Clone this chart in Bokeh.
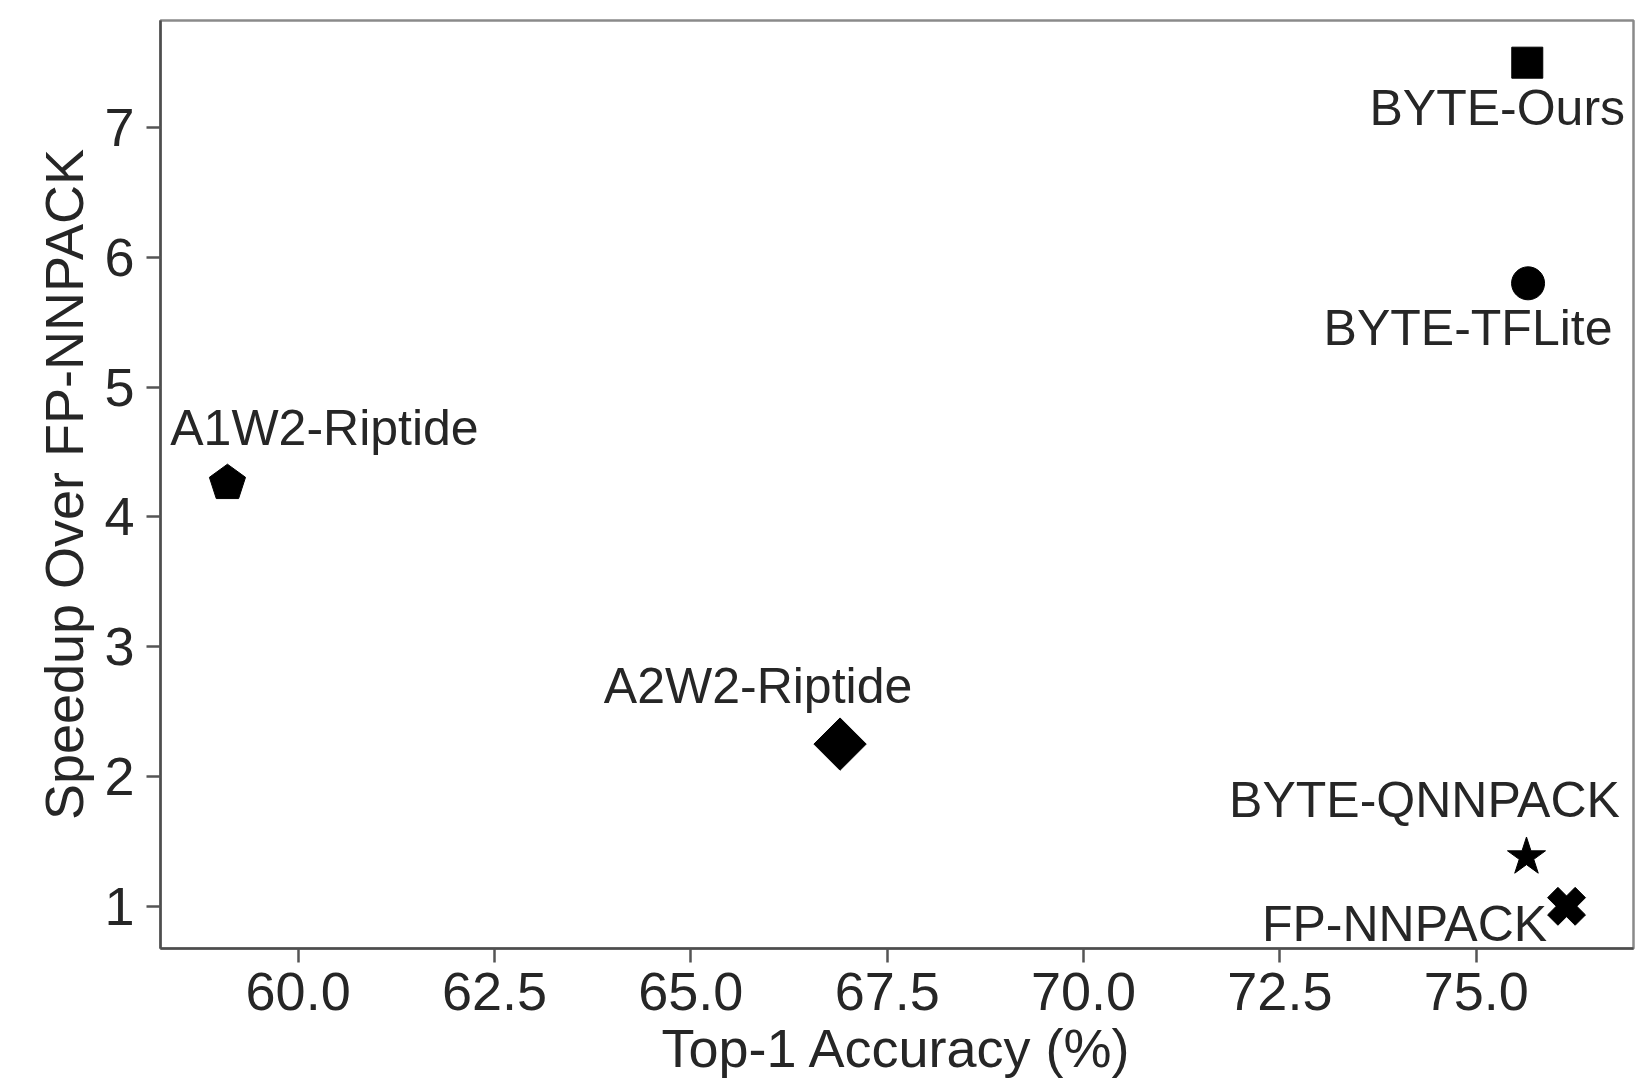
from bokeh.plotting import figure
from bokeh.models import Range1d, FixedTicker, NumeralTickFormatter, ColumnDataSource
from bokeh.core.properties import value
from bokeh.embed import file_html
from bokeh.resources import INLINE
import numpy as np

# ---- data ----
methods = ["BYTE-Ours", "BYTE-TFLite", "A1W2-Riptide", "A2W2-Riptide", "BYTE-QNNPACK", "FP-NNPACK"]
accuracy = [75.65, 75.66, 59.1, 66.9, 75.64, 76.15]
speedup = [7.5, 5.8, 4.26, 2.25, 1.38, 1.0]
x_ticks = [60.0, 62.5, 65.0, 67.5, 70.0, 72.5, 75.0]
y_ticks = [1, 2, 3, 4, 5, 6, 7]

# ---- label placement (screen px relative to marker) ----
label_dx = [-30, -60, 97, -82, -102, -162]
label_dy = [45, 45, -55, -58, -57, 18]

FONT = "Liberation Sans"
TXT = "#262626"

pad_x = (max(accuracy) - min(accuracy)) * 0.05
pad_y = (max(speedup) - min(speedup)) * 0.05

p = figure(
    frame_width=1473, frame_height=928,
    min_border_left=160, min_border_top=20, min_border_right=6, min_border_bottom=132,
    x_range=Range1d(min(accuracy) - pad_x, max(accuracy) + pad_x),
    y_range=Range1d(min(speedup) - pad_y, max(speedup) + pad_y),
    output_backend="svg", toolbar_location=None,
    background_fill_color="white", border_fill_color="white",
)
p.grid.visible = False
p.outline_line_color = "#8a8a8a"
p.outline_line_width = 2.5

for ax in (p.xaxis[0], p.yaxis[0]):
    ax.axis_line_color = "#4d4d4d"
    ax.axis_line_width = 2.5
    ax.major_tick_line_color = "#555555"
    ax.major_tick_line_width = 2.5
    ax.major_tick_out = 14
    ax.major_tick_in = 0
    ax.minor_tick_line_color = None
    ax.major_label_text_font = FONT
    ax.major_label_text_font_size = "54px"
    ax.major_label_text_color = TXT
    ax.axis_label_text_font = FONT
    ax.axis_label_text_font_size = "54px"
    ax.axis_label_text_font_style = "normal"
    ax.axis_label_text_color = TXT

p.xaxis.ticker = FixedTicker(ticks=x_ticks)
p.xaxis.formatter = NumeralTickFormatter(format="0.0")
p.xaxis.major_label_standoff = 10
p.xaxis.axis_label = "Top-1 Accuracy (%)"
p.xaxis.axis_label_standoff = 5

p.yaxis.ticker = FixedTicker(ticks=y_ticks)
p.yaxis.major_label_standoff = 12
p.yaxis.axis_label = "Speedup Over FP-NNPACK"
p.yaxis.axis_label_standoff = 7

src = ColumnDataSource(dict(x=accuracy, y=speedup, name=methods, dx=label_dx, dy=label_dy))

def one(i):
    return dict(x=[accuracy[i]], y=[speedup[i]])

# BYTE-Ours: square
p.scatter(marker="square", size=31, color="black", **one(0))
# BYTE-TFLite: circle
p.scatter(marker="circle", size=33, color="black", **one(1))
# A1W2-Riptide: pentagon
try:
    p.ngon(radius=19, n=5, angle=0, radius_units="screen",
           fill_color="black", line_color="black", **one(2))
except Exception:
    p.scatter(marker="hex", size=36, color="black", **one(2))
# A2W2-Riptide: diamond (rotated square)
p.scatter(marker="square", size=37, angle=np.pi / 4, color="black", **one(3))
# BYTE-QNNPACK: star
p.scatter(marker="star", size=40, color="black", **one(4))
# FP-NNPACK: filled X
p.scatter(marker="plus", size=39, angle=np.pi / 4, color="black", **one(5))

p.text(x="x", y="y", text="name", x_offset="dx", y_offset="dy", source=src,
       text_font=value(FONT), text_font_size="50px", text_color=TXT,
       text_align="center", text_baseline="alphabetic")

open("out.html", "w").write(file_html(p, INLINE))
